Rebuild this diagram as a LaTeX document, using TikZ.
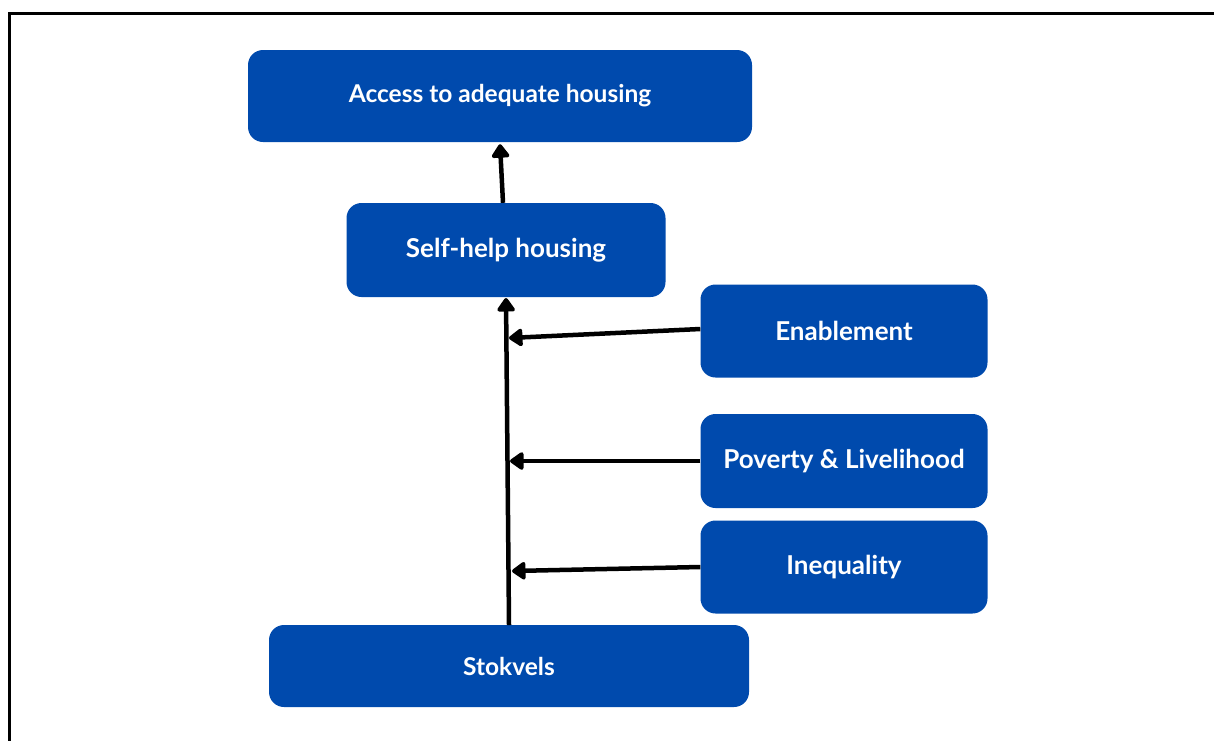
\documentclass[tikz,border=0pt]{standalone}
\usepackage{fontspec}
\setmainfont{Lato}
\usetikzlibrary{arrows.meta}
\definecolor{boxblue}{RGB}{0,74,173}
\tikzset{
  blockbox/.style={fill=boxblue, rounded corners=15pt, text=white,
    font=\fontsize{26}{30}\selectfont\bfseries, inner sep=0pt},
  titlebox/.style={blockbox, font=\fontsize{24.5}{29}\selectfont\bfseries},
  flowarrow/.style={line width=4.5pt, -{Triangle[length=15pt,width=20pt,round]}}
}
\begin{document}
\begin{tikzpicture}[x=1pt,y=-1pt]
  \useasboundingbox (0,0) rectangle (1214,740);
  % frame: only top and left edges fall inside the page
  \draw[line width=3pt] (9,760) -- (9,13) -- (1230,13);

  \node[titlebox, minimum width=504pt, minimum height=92pt] (access) at (500,96) {Access to adequate housing};
  \node[blockbox, minimum width=319pt, minimum height=94pt] (self) at (506,250) {Self-help housing};
  \node[blockbox, minimum width=287pt, minimum height=93pt] (enab) at (844,331) {Enablement};
  \node[blockbox, minimum width=287pt, minimum height=94pt] (pov) at (844,461) {Poverty \& Livelihood};
  \node[blockbox, minimum width=287pt, minimum height=93pt] (ineq) at (844,567) {Inequality};
  \node[titlebox, minimum width=480pt, minimum height=82pt] (stok) at (509,666) {Stokvels};

  \coordinate (sTop) at ([xshift=-3pt]self.north);
  \coordinate (aBot) at ([yshift=-2pt]access.south);
  \draw[flowarrow] (sTop) -- (aBot);

  \coordinate (spineBot) at (509,625);
  \coordinate (spineTop) at (506,298);
  \draw[flowarrow] (spineBot) -- (spineTop);

  \coordinate (eIn) at (509,338);
  \coordinate (pIn) at (510,461);
  \coordinate (iIn) at (512,571);
  \draw[flowarrow] ([yshift=2pt]enab.west) -- (eIn);
  \draw[flowarrow] (pov.west) -- (pIn);
  \draw[flowarrow] (ineq.west) -- (iIn);
\end{tikzpicture}
\end{document}
